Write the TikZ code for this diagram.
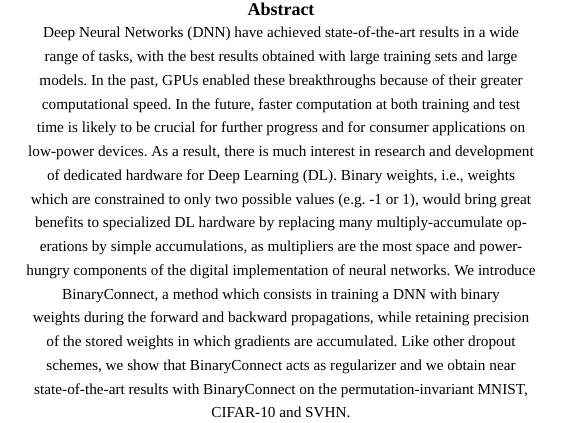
\documentclass[tikz,border=0pt]{standalone}
\usepackage{fontspec}
\setmainfont{Liberation Serif}
\usetikzlibrary{positioning}
\frenchspacing

\begin{document}
\begin{tikzpicture}[x=1pt,y=1pt,node distance=23.75pt,on grid]
  \tikzstyle{every node}=[inner sep=0pt,text height=11pt,text depth=3pt]
  \tikzstyle{textline}=[font=\fontsize{15.25}{18}\selectfont]
  \useasboundingbox[fill=white] (0,0) rectangle (574,423);

  \node[font=\bfseries\fontsize{18}{21}\selectfont] (title) at (281,411) {Abstract};
  \node[textline] (l1)  [below=22pt of title] {Deep Neural Networks (DNN) have achieved state-of-the-art results in a wide};
  \node[textline] (l2)  [below=of l1]  {range of tasks, with the best results obtained with large training sets and large};
  \node[textline] (l3)  [below=of l2]  {models. In the past, GPUs enabled these breakthroughs because of their greater};
  \node[textline] (l4)  [below=of l3]  {computational speed. In the future, faster computation at both training and test};
  \node[textline] (l5)  [below=of l4]  {time is likely to be crucial for further progress and for consumer applications on};
  \node[textline] (l6)  [below=of l5]  {low-power devices. As a result, there is much interest in research and development};
  \node[textline] (l7)  [below=of l6]  {of dedicated hardware for Deep Learning (DL). Binary weights, i.e., weights};
  \node[textline] (l8)  [below=of l7]  {which are constrained to only two possible values (e.g. -1 or 1), would bring great};
  \node[textline] (l9)  [below=of l8]  {benefits to specialized DL hardware by replacing many multiply-accumulate op-};
  \node[textline] (l10) [below=of l9]  {erations by simple accumulations, as multipliers are the most space and power-};
  \node[textline] (l11) [below=of l10] {hungry components of the digital implementation of neural networks. We introduce};
  \node[textline] (l12) [below=of l11] {BinaryConnect, a method which consists in training a DNN with binary};
  \node[textline] (l13) [below=of l12] {weights during the forward and backward propagations, while retaining precision};
  \node[textline] (l14) [below=of l13] {of the stored weights in which gradients are accumulated. Like other dropout};
  \node[textline] (l15) [below=of l14] {schemes, we show that BinaryConnect acts as regularizer and we obtain near};
  \node[textline] (l16) [below=of l15] {state-of-the-art results with BinaryConnect on the permutation-invariant MNIST,};
  \node[textline] (l17) [below=of l16] {CIFAR-10 and SVHN.};
\end{tikzpicture}
\end{document}
